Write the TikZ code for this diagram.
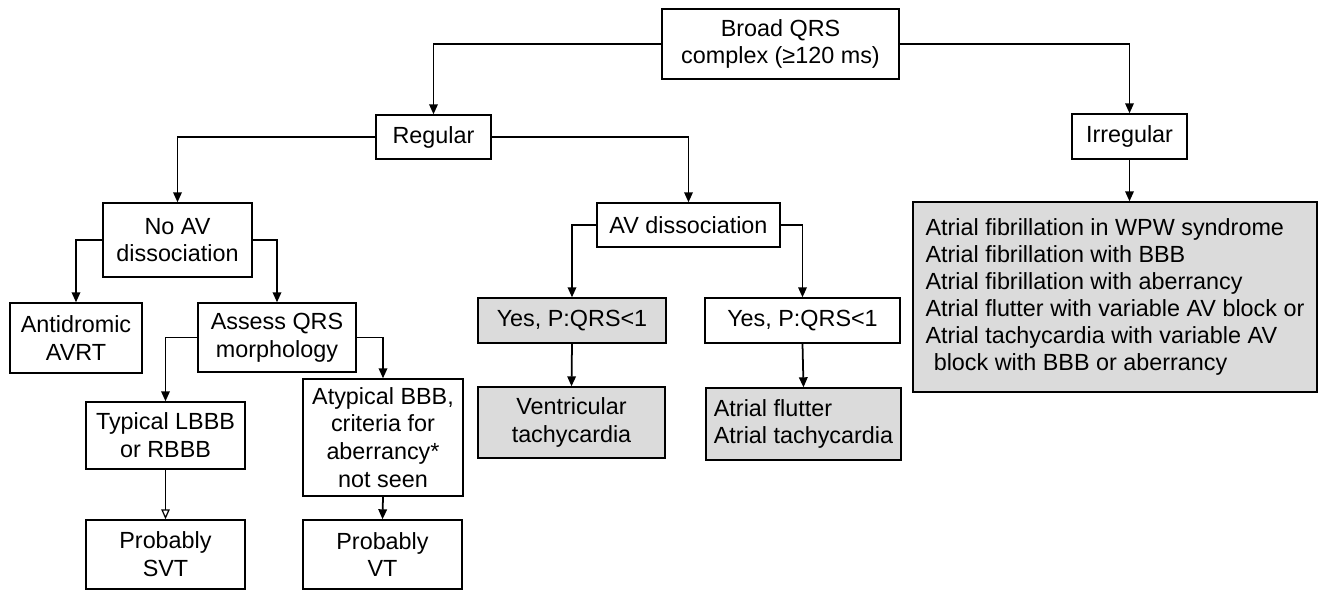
\documentclass[tikz,border=0pt]{standalone}
\usepackage{fontspec}
\setmainfont{Liberation Sans}
\usetikzlibrary{arrows.meta}

\begin{document}
\begin{tikzpicture}[x=0.02cm,y=-0.02cm,
    box/.style={draw,line width=0.8pt,align=center,inner sep=2pt,
        font=\fontsize{13.3}{15.8}\selectfont},
    shaded/.style={box,fill=black!14},
    link/.style={line width=1pt,-{Triangle[length=0.2cm,width=0.17cm]}},
    openlink/.style={line width=0.7pt,-{Triangle[open,length=0.2cm,width=0.17cm]}}]
    \useasboundingbox (0,0) rectangle (1322,590);

    % Top level
    \node[box,minimum width=4.74cm,minimum height=1.40cm] (broad) at (780.5,44) {Broad QRS\\complex (≥120 ms)};
    \node[box,minimum width=2.30cm,minimum height=0.88cm] (regular) at (433.5,137) {Regular};
    \node[box,minimum width=2.30cm,minimum height=0.90cm] (irregular) at (1129.5,136.5) {Irregular};

    % Regular branch
    \node[box,minimum width=2.98cm,minimum height=1.48cm] (noav) at (177.5,240) {No AV\\dissociation};
    \node[box,minimum width=3.66cm,minimum height=0.88cm] (avdiss) at (688.5,225) {AV dissociation};
    \node[box,minimum width=2.64cm,minimum height=1.40cm] (avrt) at (76,338) {Antidromic\\AVRT};
    \node[box,minimum width=3.16cm,minimum height=1.38cm] (assess) at (277,337.5) {Assess QRS\\morphology};
    \node[box,minimum width=3.18cm,minimum height=1.34cm] (typical) at (165.5,435.5) {Typical LBBB\\or RBBB};
    \node[box,minimum width=3.20cm,minimum height=2.34cm] (atypical) at (383,437.5) {Atypical BBB,\\criteria for\\aberrancy*\\not seen};
    \node[box,minimum width=3.18cm,minimum height=1.38cm] (svt) at (165.5,554.5) {Probably\\SVT};
    \node[box,minimum width=3.18cm,minimum height=1.38cm] (probvt) at (382.5,554.5) {Probably\\VT};

    % AV dissociation branch
    \node[shaded,minimum width=3.76cm,minimum height=0.90cm] (yesvt) at (572,320.5) {Yes, P:QRS<1};
    \node[box,minimum width=3.90cm,minimum height=0.90cm] (yesat) at (802.5,320.5) {Yes, P:QRS<1};
    \node[shaded,minimum width=3.74cm,minimum height=1.42cm] (vt) at (571.5,422.5) {Ventricular\\tachycardia};
    \node[shaded,minimum width=3.90cm,minimum height=1.44cm,align=left] (flutter) at (803.5,424) {Atrial flutter\\Atrial tachycardia};

    % Irregular branch
    \node[shaded,minimum width=8.08cm,minimum height=3.80cm,align=left,
        font=\fontsize{13.3}{15.4}\selectfont] (afib) at (1115,297)
        {Atrial fibrillation in WPW syndrome\\
         Atrial fibrillation with BBB\\
         Atrial fibrillation with aberrancy\\
         Atrial flutter with variable AV block or\\
         Atrial tachycardia with variable AV\\
         \hspace{0.35em}block with BBB or aberrancy};

    % Connectors
    \draw[link] (broad.west) -| (regular.north);
    \draw[link] (broad.east) -| (irregular.north);
    \draw[link] (regular.west) -| (noav.north);
    \draw[link] (regular.east) -| (avdiss.north);
    \draw[link] (irregular.south) -- (irregular.south |- afib.north);
    \draw[link] (noav.west) -| (avrt.north);
    \draw[link] (noav.east) -| (assess.north);
    \draw[link] (assess.west) -| (typical.north);
    \draw[link] (assess.east) -| (atypical.north);
    \draw[link] (avdiss.west) -| (yesvt.north);
    \draw[link] (avdiss.east) -| (yesat.north);
    \draw[link] (yesvt.south) -- (vt.north);
    \draw[link] (yesat.south) -- (flutter.north);
    \draw[openlink] (typical.south) -- (svt.north);
    \draw[link] (atypical.south) -- (probvt.north);
\end{tikzpicture}
\end{document}
